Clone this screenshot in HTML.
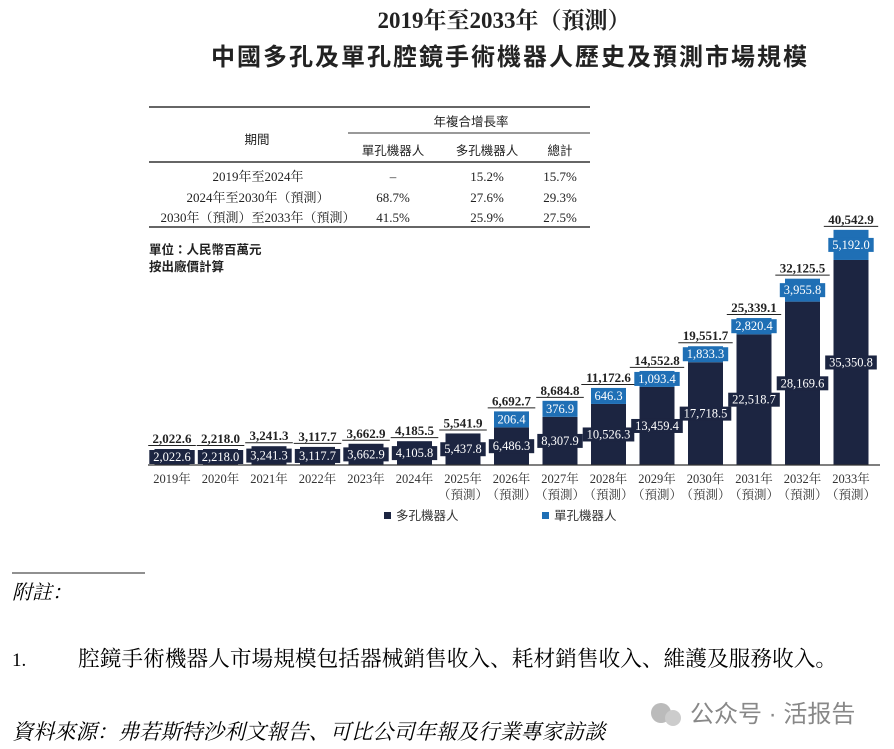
<!DOCTYPE html>
<html><head><meta charset="utf-8"><style>
body{margin:0;width:894px;height:749px;background:#fff;overflow:hidden;position:relative;font-family:"Liberation Serif","Noto Serif CJK SC",serif;color:#222}
.t{position:absolute;white-space:nowrap}
</style></head><body>
<div class="t" style="left:0;width:1008px;text-align:center;top:2px;font-size:23px;font-weight:bold;">2019年至2033年（預測）</div>
<div class="t" style="left:0;width:1020px;text-align:center;top:37px;font-size:24px;font-weight:bold;font-family:'Liberation Sans','Noto Sans CJK TC',sans-serif;letter-spacing:2px">中國多孔及單孔腔鏡手術機器人歷史及預測市場規模</div>
<svg width="894" height="749" style="position:absolute;left:0;top:0" font-family="Liberation Serif, Noto Serif CJK SC, serif">
<g stroke="#333" stroke-width="1.5">
<line x1="149" y1="107" x2="590" y2="107"/>
<line x1="149" y1="162" x2="590" y2="162"/>
<line x1="149" y1="227" x2="590" y2="227"/>
</g>
<line x1="348" y1="133" x2="590" y2="133" stroke="#333" stroke-width="1"/>
<g font-family="Liberation Sans, Noto Sans CJK TC, sans-serif" font-size="12.5" fill="#222" text-anchor="middle">
<text x="471" y="126">年複合增長率</text>
<text x="257" y="144">期間</text>
<text x="393" y="155">單孔機器人</text>
<text x="487" y="155">多孔機器人</text>
<text x="560" y="155">總計</text>
<text x="149" y="254" text-anchor="start" font-weight="bold">單位：人民幣百萬元</text>
<text x="149" y="271" text-anchor="start" font-weight="bold">按出廠價計算</text>
</g>
<g font-size="13" fill="#222" text-anchor="middle">
<text x="258" y="181">2019年至2024年</text>
<text x="258" y="202">2024年至2030年（預測）</text>
<text x="258" y="222">2030年（預測）至2033年（預測）</text>
<text x="393" y="181">–</text><text x="393" y="202">68.7%</text><text x="393" y="222">41.5%</text>
<text x="487" y="181">15.2%</text><text x="487" y="202">27.6%</text><text x="487" y="222">25.9%</text>
<text x="560" y="181">15.7%</text><text x="560" y="202">29.3%</text><text x="560" y="222">27.5%</text>
</g>
<g id="bars"></g>
<line x1="148" y1="465" x2="880" y2="465" stroke="#333" stroke-width="1.2"/>
<rect x="384" y="512" width="7" height="7" fill="#1c2541"/>
<text x="396" y="520" font-size="12.5" font-family="Liberation Sans, Noto Sans CJK TC, sans-serif" fill="#333">多孔機器人</text>
<rect x="542" y="512" width="7" height="7" fill="#1f6fb5"/>
<text x="554" y="520" font-size="12.5" font-family="Liberation Sans, Noto Sans CJK TC, sans-serif" fill="#333">單孔機器人</text>
<line x1="12" y1="573" x2="145" y2="573" stroke="#222" stroke-width="1"/>
<text x="12" y="599" font-size="20" font-style="italic">附註：</text>
<text x="12" y="666" font-size="19">1.</text>
<text x="78" y="666" font-size="21.7">腔鏡手術機器人市場規模包括器械銷售收入、耗材銷售收入、維護及服務收入。</text>
<text x="12" y="739" font-size="21.2" font-style="italic">資料來源：弗若斯特沙利文報告、可比公司年報及行業專家訪談</text>
<circle cx="661" cy="713" r="10" fill="#bbb"/><circle cx="673" cy="718" r="8" fill="#ccc"/>
<text x="690" y="722" font-size="24" fill="#888" font-family="Liberation Sans, Noto Sans CJK SC, sans-serif">公众号 · 活报告</text>
</svg>
<script>
var d=[["2019",2022.6,0,2022.6],["2020",2218.0,0,2218.0],["2021",3241.3,0,3241.3],["2022",3117.7,0,3117.7],["2023",3662.9,0,3662.9],["2024",4105.8,0,4185.5],["2025",5437.8,0,5541.9],["2026",6486.3,206.4,6692.7],["2027",8307.9,376.9,8684.8],["2028",10526.3,646.3,11172.6],["2029",13459.4,1093.4,14552.8],["2030",17718.5,1833.3,19551.7],["2031",22518.7,2820.4,25339.1],["2032",28169.6,3955.8,32125.5],["2033",35350.8,5192.0,40542.9]];
var s=0.0058,b=465,w=35,g=document.getElementById('bars'),h='';
function f(v){return v.toLocaleString('en-US',{minimumFractionDigits:1,maximumFractionDigits:1});}
function lab(x,y,t,c){var tw=t.length*6.2+2;return '<rect x="'+(x-tw/2)+'" y="'+(y-10)+'" width="'+tw+'" height="14" fill="'+c+'"/><text x="'+x+'" y="'+(y+1)+'" font-size="12.5" fill="#fff" text-anchor="middle">'+t+'</text>';}
d.forEach(function(r,i){var cx=172+i*48.5,dh=Math.max(r[1]*s,16),sh=r[2]*s;if(r[2]&&sh<16)sh=16;
var top=b-dh-sh;
h+='<rect x="'+(cx-w/2)+'" y="'+(b-dh)+'" width="'+w+'" height="'+dh+'" fill="#1c2541"/>';
if(r[2])h+='<rect x="'+(cx-w/2)+'" y="'+top+'" width="'+w+'" height="'+sh+'" fill="#1f6fb5"/>';
h+=lab(cx,b-dh/2+3,f(r[1]),'#1c2541');
if(r[2])h+=lab(cx,top+sh/2+3,f(r[2]),'#1f6fb5');
var T=f(r[3]);h+='<text x="'+cx+'" y="'+(top-6)+'" font-size="13" font-weight="bold" text-anchor="middle" fill="#222">'+T+'</text><line x1="'+(cx-T.length*3.4)+'" y1="'+(top-3.5)+'" x2="'+(cx+T.length*3.4)+'" y2="'+(top-3.5)+'" stroke="#222" stroke-width="1"/>';
h+='<text x="'+cx+'" y="483" font-size="12.5" text-anchor="middle" fill="#333">'+r[0]+'年</text>';
if(i>=6)h+='<text x="'+cx+'" y="499" font-size="12.5" text-anchor="middle" fill="#333">（預測）</text>';
});
g.innerHTML=h;
</script>
</body></html>
